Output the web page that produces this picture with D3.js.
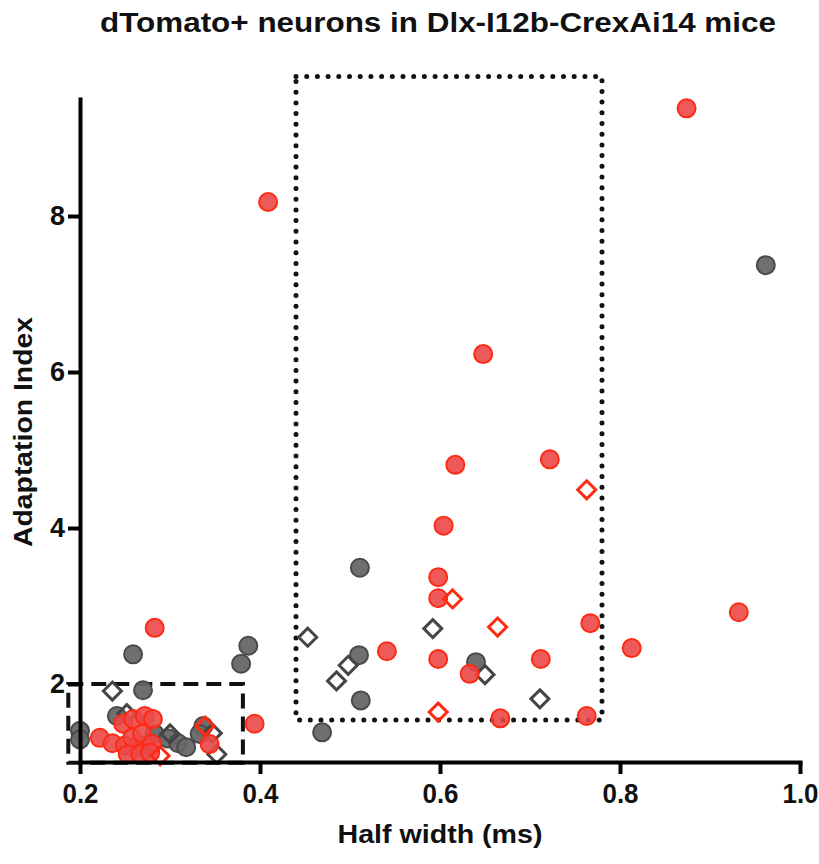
<!DOCTYPE html>
<html>
<head>
<meta charset="utf-8">
<script src="https://cdn.jsdelivr.net/npm/d3@7"></script>
<style>
  html, body { margin: 0; padding: 0; background: #fff; }
  svg { display: block; }
  text { font-family: "Liberation Sans", Arial, sans-serif; font-weight: bold; fill: #111; }
</style>
</head>
<body>
<svg id="chart" width="819" height="864"></svg>
<script>
// ---- data (Half width ms, Adaptation index) ----
const redCircles = [
  [0.874, 9.38], [0.409, 8.18], [0.648, 6.23], [0.617, 4.81], [0.722, 4.88],
  [0.604, 4.03], [0.598, 3.37], [0.598, 3.10], [0.767, 2.78], [0.541, 2.42],
  [0.598, 2.32], [0.633, 2.13], [0.712, 2.32], [0.667, 1.56], [0.763, 1.59],
  [0.932, 2.92], [0.813, 2.46], [0.283, 2.72], [0.394, 1.49],
  [0.222, 1.31], [0.236, 1.24], [0.248, 1.49], [0.259, 1.55], [0.272, 1.59],
  [0.281, 1.55], [0.250, 1.21], [0.261, 1.18], [0.272, 1.21], [0.258, 1.31],
  [0.269, 1.36], [0.280, 1.23], [0.253, 1.10], [0.267, 1.10], [0.278, 1.12],
  [0.344, 1.23]
];
const greyCircles = [
  [0.962, 7.37], [0.511, 3.49], [0.510, 2.37], [0.640, 2.28], [0.512, 1.79],
  [0.469, 1.38], [0.259, 2.38], [0.387, 2.49], [0.379, 2.26], [0.270, 1.92],
  [0.200, 1.40], [0.200, 1.29], [0.241, 1.59], [0.283, 1.36], [0.298, 1.30],
  [0.309, 1.24], [0.318, 1.19], [0.337, 1.46], [0.333, 1.36]
];
const redDiamonds = [
  [0.763, 4.49], [0.614, 3.09], [0.664, 2.73], [0.598, 1.64], [0.289, 1.08],
  [0.339, 1.46]
];
const greyDiamonds = [
  [0.453, 2.60], [0.592, 2.71], [0.498, 2.24], [0.485, 2.04], [0.650, 2.12],
  [0.711, 1.81], [0.236, 1.91], [0.252, 1.62], [0.300, 1.36], [0.347, 1.37],
  [0.352, 1.10]
];
const xTicks = [0.2, 0.4, 0.6, 0.8, 1.0];
const yTicks = [2, 4, 6, 8];
const dashedBox = { x0: 0.187, x1: 0.381, y0: 0.99, y1: 2.0 };
const dottedBox = { x0: 0.44, x1: 0.78, y0: 1.54, y1: 9.79 };
const titleText = "dTomato+ neurons in Dlx-I12b-CrexAi14 mice";
const xLabel = "Half width (ms)";
const yLabel = "Adaptation Index";

// ---- layout ----
const svg = d3.select("#chart");
const x = d3.scaleLinear().domain([0.2, 1.0]).range([80, 800]);
const y = d3.scaleLinear().domain([1, 9.5]).range([762, 99]);

// reference boxes
svg.append("rect")
  .attr("x", x(dashedBox.x0)).attr("y", y(dashedBox.y1))
  .attr("width", x(dashedBox.x1) - x(dashedBox.x0))
  .attr("height", y(dashedBox.y0) - y(dashedBox.y1))
  .attr("fill", "none").attr("stroke", "#111").attr("stroke-width", 4)
  .attr("stroke-dasharray", "15 8");

svg.append("rect")
  .attr("x", x(dottedBox.x0)).attr("y", y(dottedBox.y1))
  .attr("width", x(dottedBox.x1) - x(dottedBox.x0))
  .attr("height", y(dottedBox.y0) - y(dottedBox.y1))
  .attr("fill", "none").attr("stroke", "#111").attr("stroke-width", 5)
  .attr("stroke-linecap", "round")
  .attr("stroke-dasharray", "0 10.7");

// points
const R = 9, S = 9;
const diamondPath = s => `M0,${-s}L${s},0L0,${s}L${-s},0Z`;

svg.append("g").selectAll("circle").data(greyCircles).join("circle")
  .attr("cx", d => x(d[0])).attr("cy", d => y(d[1])).attr("r", R)
  .attr("fill", "#676767").attr("fill-opacity", 0.95)
  .attr("stroke", "#4a4a4a").attr("stroke-width", 2);

svg.append("g").selectAll("path").data(greyDiamonds).join("path")
  .attr("transform", d => `translate(${x(d[0])},${y(d[1])})`)
  .attr("d", diamondPath(S))
  .attr("fill", "none").attr("stroke", "#454545").attr("stroke-width", 3);

svg.append("g").selectAll("circle").data(redCircles).join("circle")
  .attr("cx", d => x(d[0])).attr("cy", d => y(d[1])).attr("r", R)
  .attr("fill", "#ec4848").attr("fill-opacity", 0.9)
  .attr("stroke", "#ff2a12").attr("stroke-width", 2);

svg.append("g").selectAll("path").data(redDiamonds).join("path")
  .attr("transform", d => `translate(${x(d[0])},${y(d[1])})`)
  .attr("d", diamondPath(S))
  .attr("fill", "none").attr("stroke", "#ff2a12").attr("stroke-width", 3);

// axes
const xAxis = svg.append("g").attr("transform", "translate(0,762)")
  .call(d3.axisBottom(x).tickValues(xTicks).tickFormat(d3.format(".1f"))
    .tickSize(12).tickSizeOuter(0).tickPadding(10));
const yAxis = svg.append("g").attr("transform", "translate(80,0)")
  .call(d3.axisLeft(y).tickValues(yTicks).tickFormat(d3.format("d"))
    .tickSize(12).tickSizeOuter(0).tickPadding(3));

[xAxis, yAxis].forEach(g => {
  g.select(".domain").attr("stroke", "#000").attr("stroke-width", 4).attr("stroke-linecap", "square");
  g.selectAll(".tick line").attr("stroke", "#000").attr("stroke-width", 4);
  g.selectAll(".tick text")
    .style("font-size", "27px").style("font-weight", "bold")
    .style("font-family", "Liberation Sans, Arial, sans-serif").style("fill", "#111");
});
xAxis.selectAll(".tick text").attr("textLength", 36).attr("lengthAdjust", "spacingAndGlyphs");

// titles
svg.append("text").attr("x", 438).attr("y", 32).attr("text-anchor", "middle")
  .style("font-size", "28px").attr("textLength", 676).attr("lengthAdjust", "spacingAndGlyphs")
  .text(titleText);
svg.append("text").attr("x", 440).attr("y", 843).attr("text-anchor", "middle")
  .style("font-size", "26px").attr("textLength", 205).attr("lengthAdjust", "spacingAndGlyphs")
  .text(xLabel);
svg.append("text").attr("transform", "translate(32,432) rotate(-90)").attr("text-anchor", "middle")
  .style("font-size", "26px").attr("textLength", 230).attr("lengthAdjust", "spacingAndGlyphs")
  .text(yLabel);
</script>
</body>
</html>
